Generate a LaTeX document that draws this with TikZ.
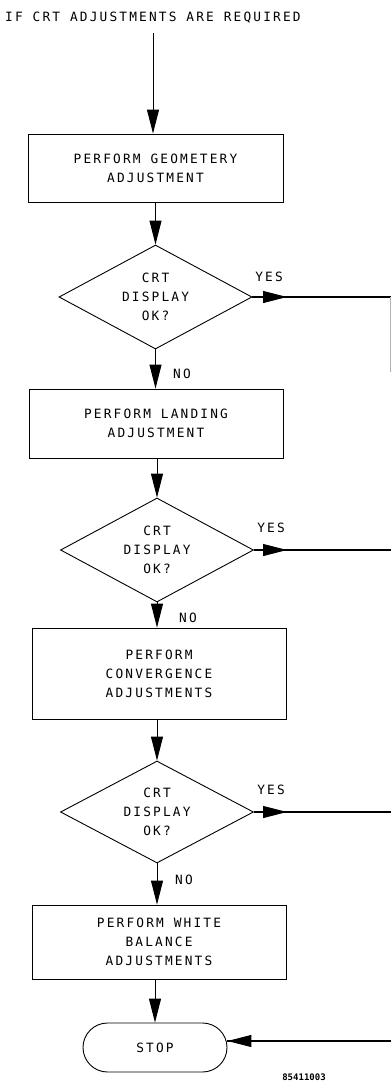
\documentclass[tikz,border=0pt]{standalone}
\usepackage{fontspec}
\newfontfamily\plotfont[LetterSpace=17]{DejaVu Sans Mono}
\newfontfamily\codefont{DejaVu Sans Mono}
\usetikzlibrary{shapes.geometric,arrows.meta}
\begin{document}
\begin{tikzpicture}[x=1pt,y=-1pt,
  txt/.style={font=\plotfont\fontsize{12.8}{19}\selectfont, inner sep=0pt, align=center},
  proc/.style={txt, draw, line width=0.9pt, minimum width=255pt},
  dec/.style={txt, diamond, draw, line width=0.9pt, aspect=1.86, minimum width=193pt, minimum height=104pt},
  term/.style={txt, draw, line width=0.9pt, rounded corners=24.5pt, minimum width=144pt, minimum height=49pt},
  flow/.style={line width=1pt, -{Triangle[length=24pt,width=12pt]}},
  yesline/.style={line width=1.3pt},
]
\useasboundingbox (0,0) rectangle (391,1082);

\node[txt, anchor=west] (title) at (5,17.5) {IF CRT ADJUSTMENTS ARE REQUIRED};
\coordinate (start) at (153,33);

\node[proc, minimum height=68pt] (b1) at (155.5,168) {PERFORM GEOMETERY\\ADJUSTMENT};
\node[dec] (d1) at (155.5,297) {CRT\\DISPLAY\\OK?};
\node[proc, minimum height=69pt, minimum width=254pt] (b2) at (156,423.5) {PERFORM LANDING\\ADJUSTMENT};
\node[dec] (d2) at (157,550) {CRT\\DISPLAY\\OK?};
\node[proc, minimum height=91pt, minimum width=254pt] (b3) at (159,673.5) {PERFORM\\CONVERGENCE\\ADJUSTMENTS};
\node[dec, minimum height=102pt] (d3) at (157,812) {CRT\\DISPLAY\\OK?};
\node[proc, minimum height=74pt, minimum width=254pt] (b4) at (159,942) {PERFORM WHITE\\BALANCE\\ADJUSTMENTS};
\node[term] (stop) at (155,1047.5) {STOP};

% vertical flow
\draw[flow] (start) -- (start |- b1.north);
\draw[flow] (b1.south -| d1.north) -- (d1.north);
\draw[flow] (d1.south) -- (d1.south |- b2.north);
\draw[flow] (b2.south -| d2.north) -- (d2.north);
\draw[flow] (d2.south) -- (d2.south |- b3.north);
\draw[flow] (b3.south -| d3.north) -- (d3.north);
\draw[flow] (d3.south) -- (d3.south |- b4.north);
\draw[flow] (stop.north |- b4.south) -- (stop.north);

% labels
\node[txt] (y1) at (269,277) {YES};
\node[txt] (y2) at (271,528) {YES};
\node[txt] (y3) at (271,790) {YES};
\node[txt, anchor=west] (n1) at (173,374) {NO};
\node[txt, anchor=west] (n2) at (179,618) {NO};
\node[txt, anchor=west] (n3) at (175,880) {NO};

% YES branches
\coordinate (a1) at (287,297);
\coordinate (a2) at (287,550);
\coordinate (a3) at (287,812);
\coordinate (r1) at (391,297);
\coordinate (r2) at (391,550);
\coordinate (r3) at (391,812);
\coordinate (r1v) at (390.5,372);
\coordinate (r1t) at (390.5,297);
\draw[yesline] (d1.east) -- (r1);
\draw[yesline] (d2.east) -- (r2);
\draw[yesline] (d3.east) -- (r3);
\draw[flow] (d1.east) -- (a1);
\draw[flow] (d2.east) -- (a2);
\draw[flow] (d3.east) -- (a3);
\draw[black!30, line width=0.8pt] (r1t) -- (r1v);

% return into STOP
\coordinate (r4) at (391,1041);
\draw[yesline] (r4) -- (stop.east |- r4);
\draw[flow] (stop.east |- r4) ++(25,0) coordinate (a4) -- (stop.east |- r4);

\node[font=\codefont\bfseries\fontsize{9}{9}\selectfont, inner sep=0pt] (fig) at (304,1077) {85411003};
\end{tikzpicture}
\end{document}
